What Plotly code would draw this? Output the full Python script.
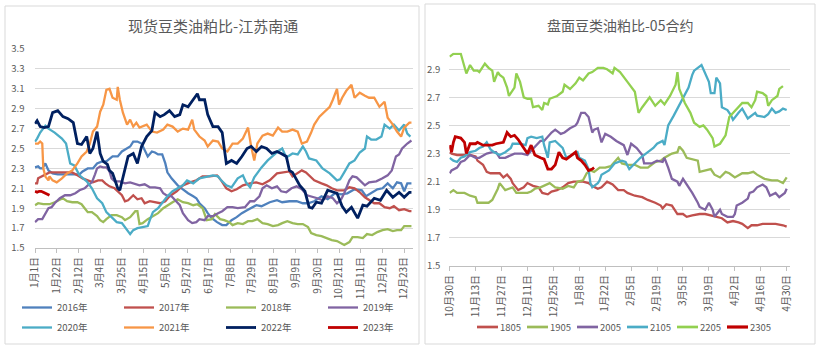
import pandas as pd
import plotly.graph_objects as go

W, H = 826, 354
FONT = "Noto Sans CJK SC"
TXT = "#595959"
GRID = "#D9D9D9"

# ---------------- Left chart: spot soybean oil/meal ratio, Jiangsu Nantong ----------------
LEFT_BASE = "2016-01-01"   # leap-year calendar used for the month/day axis
left_tick_days = [0, 21, 42, 63, 84, 105, 126, 147, 168, 189, 210, 231, 252, 273, 294, 315, 336, 357]
left_yticks = [1.5, 1.7, 1.9, 2.1, 2.3, 2.5, 2.7, 2.9, 3.1, 3.3, 3.5]

d2016 = [0,3,5,7,10,13,17,22,29,36,43,46,51,56,60,65,69,75,80,84,89,92,95,99,103,106,109,113,116,119,123,126,128,132,138,143,148,153,156,159,164,167,171,176,181,185,190,195,200,205,209,214,219,227,234,239,246,253,259,264,270,277,283,290,296,302,309,316,320,325,331,336,341,346,350,354,357,360,364]
v2016 = [2.31,2.32,2.30,2.30,2.35,2.28,2.25,2.24,2.24,2.24,2.24,2.27,2.30,2.30,2.35,2.37,2.37,2.42,2.42,2.47,2.50,2.52,2.57,2.57,2.55,2.49,2.42,2.47,2.46,2.44,2.44,2.35,2.26,2.20,2.13,2.09,2.05,2.02,2.00,1.95,1.90,1.85,1.80,1.76,1.73,1.73,1.78,1.81,1.85,1.88,1.90,1.93,1.92,1.96,1.98,1.96,1.97,1.97,1.95,1.95,1.97,2.02,1.99,2.05,2.04,2.05,2.09,2.08,2.02,2.05,2.09,2.10,2.15,2.10,2.16,2.15,2.07,2.15,2.15]

d2017 = [0,2,3,8,12,14,19,27,36,41,46,51,56,61,65,68,72,77,80,84,87,90,95,99,103,106,111,116,121,126,130,137,143,150,156,162,169,176,180,185,190,195,201,208,214,220,227,234,239,246,249,254,258,262,265,270,277,282,287,292,299,304,309,314,319,323,328,333,338,343,347,352,357,362,364]
v2017 = [2.15,2.15,2.20,2.23,2.25,2.26,2.26,2.26,2.26,2.23,2.20,2.18,2.16,2.18,2.18,2.15,2.12,2.10,2.07,2.03,1.97,1.98,2.03,1.99,2.00,1.95,1.97,1.96,1.95,1.97,2.02,2.07,2.13,2.16,2.18,2.22,2.22,2.23,2.18,2.10,2.07,2.09,2.13,2.15,2.16,2.14,2.18,2.25,2.26,2.27,2.22,2.25,2.28,2.26,2.23,2.18,2.15,2.13,2.10,2.08,2.08,2.11,2.10,2.06,2.01,1.98,1.95,1.95,1.91,1.90,1.92,1.88,1.89,1.87,1.87]

d2018 = [0,3,8,14,19,24,27,31,36,41,45,48,51,55,60,63,66,69,74,79,84,87,92,97,99,101,104,109,114,119,124,128,133,138,143,148,153,157,162,166,171,174,179,183,188,191,196,201,206,210,215,220,225,230,235,239,244,249,254,259,264,267,272,277,282,287,292,296,299,304,307,312,317,321,326,331,336,341,346,350,354,357,361,364]
v2018 = [1.93,1.95,1.94,1.94,1.96,1.99,2.00,1.97,1.96,1.96,1.94,1.90,1.86,1.86,1.82,1.78,1.76,1.79,1.83,1.83,1.81,1.78,1.81,1.87,1.87,1.74,1.75,1.79,1.82,1.85,1.90,1.93,1.96,1.99,1.96,1.95,1.93,1.94,1.90,1.78,1.79,1.84,1.79,1.78,1.76,1.73,1.75,1.74,1.77,1.77,1.79,1.75,1.74,1.72,1.73,1.75,1.77,1.75,1.74,1.74,1.71,1.65,1.63,1.62,1.60,1.58,1.57,1.55,1.53,1.56,1.61,1.61,1.60,1.64,1.63,1.66,1.68,1.69,1.67,1.68,1.68,1.72,1.72,1.72]

d2019 = [0,3,7,10,13,16,19,24,29,34,39,43,48,51,55,58,60,63,66,69,72,74,77,82,87,92,97,101,106,111,116,121,124,127,132,137,140,143,148,152,156,159,164,167,172,177,181,186,191,196,203,208,212,217,220,224,229,234,238,243,248,253,258,263,267,273,278,283,288,292,296,299,304,307,311,314,319,323,330,336,341,345,346,349,352,355,360,364]
v2019 = [1.76,1.79,1.79,1.84,1.90,1.91,1.95,2.00,2.03,2.03,2.05,2.08,2.10,2.13,2.16,2.24,2.30,2.32,2.31,2.31,2.27,2.20,2.17,2.17,2.15,2.16,2.14,2.13,2.14,2.11,2.11,2.10,2.05,2.03,2.02,1.97,1.93,1.85,1.78,1.75,1.76,1.79,1.78,1.82,1.82,1.85,1.87,1.91,1.91,1.90,1.91,1.97,1.97,2.02,2.10,2.13,2.10,2.12,2.07,2.06,2.10,2.12,2.09,2.03,2.02,2.00,1.98,2.02,2.00,1.95,1.99,2.05,2.18,2.22,2.21,2.18,2.13,2.16,2.17,2.20,2.23,2.28,2.32,2.42,2.44,2.50,2.55,2.58]

d2020 = [0,2,5,10,13,19,26,30,32,34,38,43,50,55,60,65,69,74,79,84,89,92,95,99,104,109,111,114,119,124,128,133,138,143,147,153,159,166,172,177,180,185,190,196,201,204,208,212,219,225,230,236,239,243,249,254,259,262,265,272,278,285,292,295,299,304,309,314,319,321,325,330,335,338,343,347,352,357,360,363]
v2020 = [2.57,2.60,2.66,2.73,2.70,2.66,2.60,2.55,2.45,2.35,2.33,2.23,2.17,2.10,2.00,1.95,1.86,1.81,1.76,1.75,1.68,1.64,1.68,1.70,1.71,1.72,1.78,1.86,1.90,1.97,2.02,2.07,2.10,2.13,2.18,2.15,2.20,2.22,2.23,2.22,2.18,2.13,2.11,2.20,2.23,2.16,2.11,2.21,2.31,2.38,2.43,2.48,2.50,2.41,2.45,2.44,2.52,2.47,2.40,2.38,2.30,2.25,2.18,2.19,2.26,2.35,2.38,2.46,2.50,2.62,2.59,2.59,2.62,2.74,2.70,2.74,2.68,2.74,2.65,2.62]

d2021 = [0,3,5,7,8,10,13,14,17,21,26,31,36,41,45,50,53,56,60,63,66,69,72,75,79,80,82,85,89,92,95,98,101,108,113,118,124,128,133,138,143,148,152,154,159,164,167,172,177,181,186,191,196,201,206,209,212,215,220,225,230,235,239,244,249,254,258,263,267,270,275,280,285,288,292,294,297,301,306,309,314,319,323,328,333,338,341,346,350,354,357,362,364]
v2021 = [2.55,2.55,2.57,2.55,2.30,2.22,2.18,2.22,2.18,2.16,2.20,2.25,2.28,2.35,2.42,2.47,2.55,2.67,2.72,2.87,2.94,3.09,3.10,3.01,2.99,3.12,2.99,2.86,2.74,2.79,2.72,2.76,2.71,2.74,2.67,2.66,2.69,2.74,2.72,2.67,2.70,2.69,2.79,2.69,2.62,2.58,2.52,2.58,2.57,2.50,2.47,2.55,2.55,2.60,2.71,2.52,2.38,2.55,2.63,2.65,2.63,2.71,2.67,2.67,2.69,2.67,2.55,2.57,2.66,2.74,2.82,2.87,2.92,2.99,3.10,2.94,3.01,3.08,3.14,3.01,3.06,3.03,3.01,3.01,2.92,2.97,2.81,2.74,2.67,2.62,2.71,2.76,2.76]

d2022 = [0,2,5,9,13,17,22,27,32,37,41,45,50,53,56,60,63,66,70,72,75,77,80,82,85,90,95,99,103,108,113,116,121,125,130,135,140,143,148,153,157,159,164,167,172,177,181,183,185,190,195,200,205,209,214,219,224,229,234,238,243,246,249,256,261,265,268,272,277,283,288,292,297,301,306,312,317,321,328,334,340,346,352,357,362,364]
v2022 = [2.75,2.78,2.72,2.71,2.72,2.86,2.88,2.82,2.80,2.76,2.55,2.54,2.62,2.45,2.50,2.67,2.45,2.37,2.34,2.28,2.25,2.18,2.10,2.08,2.20,2.42,2.45,2.35,2.52,2.62,2.68,2.86,2.82,2.84,2.88,2.82,2.84,2.94,2.92,2.99,3.05,2.99,2.99,2.84,2.72,2.72,2.66,2.50,2.35,2.38,2.35,2.42,2.50,2.52,2.47,2.52,2.50,2.45,2.47,2.45,2.42,2.28,2.26,2.13,2.07,1.91,1.90,1.96,1.95,2.08,2.06,2.05,1.92,1.86,1.91,1.80,1.93,1.92,2.00,1.98,2.08,2.01,2.06,2.01,2.06,2.06]

d2023 = [0,2,4,6,8,10,12,14]
v2023 = [2.07,2.06,2.07,2.07,2.06,2.05,2.04,2.03]

left_names = ["2016年", "2017年", "2018年", "2019年", "2020年", "2021年", "2022年", "2023年"]
left_days = [d2016, d2017, d2018, d2019, d2020, d2021, d2022, d2023]
left_vals = [v2016, v2017, v2018, v2019, v2020, v2021, v2022, v2023]
left_colors = ["#4F81BD", "#C0504D", "#9BBB59", "#8064A2", "#4BACC6", "#F79646", "#002060", "#C00000"]
left_widths = [2.3, 2.3, 2.3, 2.3, 2.3, 2.3, 2.8, 2.8]

# ---------------- Right chart: futures soybean oil/meal ratio, May contracts ----------------
RIGHT_BASE = "2022-10-30"   # non-leap calendar, Oct 30 .. Apr 30
right_tick_days = [0, 14, 28, 42, 56, 70, 84, 98, 112, 126, 140, 154, 168, 182]
right_yticks = [1.5, 1.7, 1.9, 2.1, 2.3, 2.5, 2.7, 2.9]

d1805 = [0,1,4,8,11,14,15,18,20,22,24,27,29,31,33,34,37,40,42,45,48,50,53,55,58,61,64,67,69,72,75,77,80,82,85,88,91,94,96,100,104,107,111,114,115,117,120,123,126,128,131,135,138,141,143,147,150,153,156,158,161,163,166,169,172,176,180,182]
v1805 = [2.31,2.30,2.29,2.29,2.29,2.28,2.25,2.22,2.17,2.16,2.16,2.16,2.13,2.15,2.12,2.09,2.04,2.06,2.09,2.07,2.06,2.02,2.01,2.03,2.04,2.06,2.09,2.10,2.10,2.10,2.09,2.07,2.05,2.06,2.10,2.08,2.04,2.04,2.02,2.00,1.99,1.97,1.95,1.93,1.91,1.94,1.93,1.87,1.87,1.85,1.86,1.87,1.87,1.86,1.85,1.84,1.81,1.82,1.81,1.80,1.77,1.79,1.79,1.80,1.80,1.80,1.79,1.78]

d1905 = [0,2,4,8,11,14,15,18,21,23,26,27,30,32,34,36,39,42,44,46,49,51,54,57,61,64,67,69,72,74,76,78,81,84,87,89,91,93,96,100,103,107,111,114,116,120,123,124,126,128,131,134,135,138,141,143,146,149,151,154,158,161,164,166,170,174,177,180,182]
v1905 = [2.02,2.04,2.02,2.02,2.00,1.99,1.95,1.95,1.95,1.97,2.05,2.09,2.04,2.05,2.06,2.02,2.02,2.02,2.03,2.05,2.06,2.07,2.09,2.06,2.05,2.07,2.06,2.10,2.11,2.16,2.18,2.17,2.20,2.20,2.21,2.24,2.27,2.23,2.22,2.22,2.20,2.20,2.24,2.25,2.27,2.30,2.31,2.35,2.32,2.27,2.26,2.25,2.17,2.18,2.19,2.15,2.13,2.17,2.16,2.13,2.16,2.16,2.17,2.15,2.12,2.11,2.11,2.09,2.13]

d2005 = [0,1,4,6,8,11,14,16,20,23,25,27,30,33,35,39,42,44,47,49,51,53,55,57,60,62,65,68,69,71,73,75,77,78,80,82,84,87,90,94,96,98,101,104,105,109,112,115,116,118,120,123,124,126,129,131,134,135,138,140,142,143,146,147,150,153,154,155,158,161,162,164,166,169,171,173,176,178,181,182]
v2005 = [2.16,2.18,2.20,2.24,2.25,2.29,2.27,2.27,2.30,2.31,2.31,2.27,2.27,2.29,2.30,2.30,2.29,2.32,2.36,2.39,2.39,2.42,2.45,2.47,2.44,2.45,2.48,2.50,2.52,2.59,2.59,2.56,2.45,2.47,2.48,2.38,2.44,2.42,2.39,2.36,2.29,2.37,2.34,2.29,2.23,2.23,2.25,2.24,2.27,2.20,2.12,2.10,2.07,2.12,2.06,2.02,1.95,1.92,1.90,1.95,1.90,1.85,1.90,1.87,1.85,1.85,1.87,1.93,1.95,1.98,2.02,2.03,2.06,2.08,2.06,2.00,2.02,1.99,2.02,2.05]

d2105 = [0,2,4,6,8,11,14,16,18,20,22,24,27,30,33,34,38,41,42,44,47,50,51,53,54,57,61,63,66,69,70,73,75,76,77,80,81,82,86,89,93,95,97,100,103,107,110,112,115,116,118,121,123,126,129,131,132,136,138,140,141,143,144,146,147,149,150,152,153,156,158,161,163,165,166,170,172,174,176,178,180,182]
v2105 = [2.27,2.25,2.24,2.27,2.28,2.31,2.32,2.34,2.35,2.38,2.33,2.31,2.29,2.31,2.34,2.37,2.37,2.36,2.41,2.42,2.41,2.42,2.36,2.27,2.38,2.39,2.34,2.27,2.29,2.31,2.27,2.25,2.19,2.09,2.06,2.09,2.11,2.15,2.18,2.23,2.25,2.24,2.19,2.23,2.27,2.31,2.34,2.37,2.39,2.36,2.50,2.57,2.62,2.69,2.77,2.86,2.89,2.93,2.87,2.81,2.73,2.73,2.84,2.80,2.63,2.62,2.61,2.57,2.54,2.59,2.62,2.55,2.57,2.59,2.57,2.56,2.58,2.62,2.59,2.60,2.62,2.61]

d2205 = [0,2,6,7,9,11,13,15,16,19,21,23,24,26,27,29,31,32,34,35,36,38,40,42,44,45,48,50,51,53,54,58,61,62,65,68,70,72,75,77,80,83,85,87,88,89,92,96,100,102,104,108,111,114,116,119,122,123,124,127,130,132,135,137,139,142,143,146,149,151,153,156,158,161,163,165,166,169,171,172,174,177,178,180]
v2205 = [2.99,3.01,3.01,2.96,2.87,2.93,2.89,2.89,2.88,2.94,2.91,2.89,2.81,2.88,2.86,2.84,2.77,2.71,2.75,2.77,2.87,2.81,2.70,2.69,2.69,2.63,2.64,2.61,2.66,2.65,2.69,2.71,2.74,2.79,2.76,2.80,2.84,2.82,2.87,2.88,2.91,2.91,2.90,2.88,2.87,2.91,2.88,2.81,2.74,2.59,2.63,2.70,2.64,2.68,2.65,2.71,2.79,2.88,2.76,2.66,2.59,2.52,2.49,2.50,2.47,2.41,2.35,2.37,2.43,2.56,2.59,2.63,2.66,2.66,2.63,2.68,2.74,2.73,2.71,2.64,2.68,2.71,2.76,2.78]

d2305 = [0,1,2,3,6,8,9,11,14,15,18,20,23,25,29,31,33,35,37,39,41,42,44,46,49,51,53,55,57,59,61,63,65,68,69,71,73,75,77,78]
v2305 = [2.36,2.31,2.38,2.42,2.41,2.38,2.30,2.37,2.37,2.38,2.36,2.36,2.36,2.37,2.38,2.45,2.42,2.43,2.40,2.36,2.32,2.30,2.36,2.29,2.27,2.26,2.19,2.19,2.22,2.31,2.27,2.26,2.28,2.31,2.27,2.25,2.22,2.18,2.19,2.20]

right_names = ["1805", "1905", "2005", "2105", "2205", "2305"]
right_days = [d1805, d1905, d2005, d2105, d2205, d2305]
right_vals = [v1805, v1905, v2005, v2105, v2205, v2305]
right_colors = ["#C0504D", "#9BBB59", "#8064A2", "#4BACC6", "#92D050", "#C00000"]
right_widths = [2.3, 2.3, 2.3, 2.3, 2.3, 2.8]


def to_dates(base, days):
    idx = pd.Timestamp(base) + pd.to_timedelta(days, unit="D")
    return [t.strftime("%Y-%m-%d") for t in idx]


def px_x(p):
    return p / W


def px_y(p):
    return (H - p) / H


fig = go.Figure()

# left legend is split into two rows (two legends) like the reference
for i, (name, dd, vv, col, lw) in enumerate(zip(left_names, left_days, left_vals, left_colors, left_widths)):
    fig.add_trace(go.Scatter(x=to_dates(LEFT_BASE, dd), y=vv, name=name, mode="lines",
                             line=dict(color=col, width=lw), xaxis="x", yaxis="y",
                             legend="legend" if i < 4 else "legend3"))

for name, dd, vv, col, lw in zip(right_names, right_days, right_vals, right_colors, right_widths):
    fig.add_trace(go.Scatter(x=to_dates(RIGHT_BASE, dd), y=vv, name=name, mode="lines",
                             line=dict(color=col, width=lw), xaxis="x2", yaxis="y2",
                             showlegend=False))

tickfont = dict(family=FONT, size=10, color=TXT)
legfont = dict(family=FONT, size=9.5, color=TXT)

left_tickvals = to_dates(LEFT_BASE, left_tick_days)
right_tickvals = to_dates(RIGHT_BASE, right_tick_days)

fig.update_layout(
    width=W, height=H,
    margin=dict(l=0, r=0, t=0, b=0, pad=0, autoexpand=False),
    paper_bgcolor="white", plot_bgcolor="white",
    font=dict(family=FONT, color=TXT),
    xaxis=dict(domain=[px_x(34.5), px_x(413)], type="date", automargin=False,
               range=[pd.Timestamp(LEFT_BASE) - pd.Timedelta(hours=12),
                      pd.Timestamp(LEFT_BASE) + pd.Timedelta(days=365, hours=12)],
               tickvals=left_tickvals, tickformat="%-m月%-d日", tickangle=-90,
               tickfont=tickfont, showgrid=False, showline=True, linecolor="#BFBFBF",
               linewidth=1, ticks="outside", ticklen=4, tickcolor="#BFBFBF", tickwidth=1,
               anchor="y", zeroline=False),
    yaxis=dict(domain=[px_y(248), px_y(49)], range=[1.5, 3.5], tickvals=left_yticks,
               automargin=False, tickformat=".1f", tickfont=dict(family=FONT, size=9.5, color=TXT),
               showgrid=True, gridcolor=GRID, gridwidth=1, showline=False, zeroline=False,
               ticks="", ticklabelstandoff=9, anchor="x"),
    xaxis2=dict(domain=[px_x(449.3), px_x(790)], type="date", automargin=False,
                range=[pd.Timestamp(RIGHT_BASE) - pd.Timedelta(hours=5),
                       pd.Timestamp(RIGHT_BASE) + pd.Timedelta(days=183, hours=19)],
                tickvals=right_tickvals, tickformat="%-m月%-d日", tickangle=-90,
                tickfont=tickfont, showgrid=False, showline=True, linecolor="#BFBFBF",
                linewidth=1, ticks="outside", ticklen=4, tickcolor="#BFBFBF", tickwidth=1,
                anchor="y2", zeroline=False),
    yaxis2=dict(domain=[px_y(266), px_y(52.4)], range=[1.5, 3.02], tickvals=right_yticks,
                automargin=False, tickformat=".1f", tickfont=dict(family=FONT, size=9.5, color=TXT),
                showgrid=True, gridcolor=GRID, gridwidth=1, showline=False, zeroline=False,
                ticks="", ticklabelstandoff=8, anchor="x2"),
    legend=dict(orientation="h", x=px_x(17), y=px_y(293), xanchor="left", yanchor="top",
                entrywidth=57, entrywidthmode="pixels", font=legfont,
                bgcolor="rgba(0,0,0,0)", borderwidth=0),
    legend3=dict(orientation="h", x=px_x(17), y=px_y(313), xanchor="left", yanchor="top",
                 entrywidth=57, entrywidthmode="pixels", font=legfont,
                 bgcolor="rgba(0,0,0,0)", borderwidth=0),
    showlegend=True,
    hovermode="closest",
)

# right-panel legend (compact one-row key like the reference)
LEG2_X0, LEG2_STEP, LEG2_Y, LEG2_LINE = 477, 50, 327, 21
for i, (name, col, lw) in enumerate(zip(right_names, right_colors, right_widths)):
    x0 = LEG2_X0 + i * LEG2_STEP
    fig.add_shape(type="line", xref="paper", yref="paper",
                  x0=px_x(x0), x1=px_x(x0 + LEG2_LINE), y0=px_y(LEG2_Y), y1=px_y(LEG2_Y),
                  line=dict(color=col, width=lw + 0.4))
    fig.add_annotation(text=name, xref="paper", yref="paper", x=px_x(x0 + LEG2_LINE + 1),
                       y=px_y(LEG2_Y), xanchor="left", yanchor="middle", showarrow=False,
                       font=legfont, borderpad=0)

# panel frames
fig.add_shape(type="rect", xref="paper", yref="paper",
              x0=px_x(5), x1=px_x(419), y0=px_y(344), y1=px_y(6),
              line=dict(color=GRID, width=1), fillcolor="rgba(0,0,0,0)", layer="below")
fig.add_shape(type="rect", xref="paper", yref="paper",
              x0=px_x(425), x1=px_x(815), y0=px_y(344), y1=px_y(4),
              line=dict(color=GRID, width=1), fillcolor="rgba(0,0,0,0)", layer="below")

# titles
fig.add_annotation(text="现货豆类油粕比-江苏南通", xref="paper", yref="paper",
                   x=px_x(213), y=px_y(26), xanchor="center", yanchor="middle", showarrow=False,
                   font=dict(family=FONT, size=15, color=TXT))
fig.add_annotation(text="盘面豆类油粕比-05合约", xref="paper", yref="paper",
                   x=px_x(620), y=px_y(25), xanchor="center", yanchor="middle", showarrow=False,
                   font=dict(family=FONT, size=14, color=TXT))

fig.write_html("out.html")
